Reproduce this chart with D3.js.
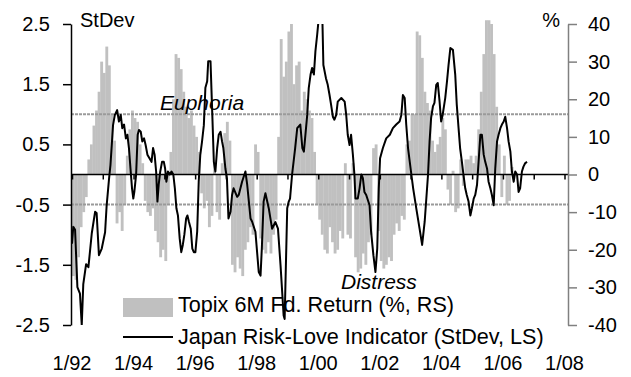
<html>
<head>
    <meta charset="utf-8">
    <script src="https://cdn.jsdelivr.net/npm/d3@7"></script>
    <style>
        body { margin: 0; background: #fff; }
        text { font-family: "Liberation Sans", Arial, sans-serif; fill: #000; }
        .tick text { font-size: 20px; }
        .note { font-size: 21px; font-style: italic; }
        .legend { font-size: 21.6px; }
    </style>
</head>
<body>
<script>

    // x tick labels (every other January)
    var xLabelYears = [1992, 1994, 1996, 1998, 2000, 2002, 2004, 2006, 2008];
    var xLabels = ["1/92", "1/94", "1/96", "1/98", "1/00", "1/02", "1/04", "1/06", "1/08"];

    var leftTicks = [2.5, 1.5, 0.5, -0.5, -1.5, -2.5];
    var rightTicks = [40, 30, 20, 10, 0, -10, -20, -30, -40];

    var euphoriaLevel = 1.0;
    var distressLevel = -0.5;

    // Topix 6M forward return (%), monthly from Jan 1992
    var topixReturn = [
        -27, -28, -22, -14, -10, -6, 4, 8, 13, 17, 22, 30,
        27, 34, 29, 16, 9, -13, -10, -15, -8, 5, 12, 17,
        15, 14, 8, 3, -7, -10, -11, -9, -15, -18, -22, -20,
        -23, -8, 6, 20, 32, 31, 28, 22, 18, 15, 17, 13,
        10, 6, -5, -9, -7, -14, -11, 3, -10, -12, 3, 11,
        14, 9, -24, -26, -22, -25, -27, -20, -18, -14, -16, 8,
        6, -17, -20, -21, -18, -21, -16, -12, 10, 36, 26, 30,
        38, 40, 24, 29, 30, 17, 22, 20, 17, 15, 6, -8,
        -12, -16, -20, -21, -14, -18, -21, -20, -15, -17, 3, -16,
        -17, 3, -22, -26, -25, -21, -24, -18, -16, 7, 8, -15,
        -23, -25, -24, -22, -23, -16, -13, -15, -11, -12, 8, 9,
        16, 16, 38, 37, 31, 22, 19, 17, 9, 6, 8, 10,
        15, 12, -4, -8, 1, -10, -9, 4, -3, 4, 4, 5,
        3, 5, 12, 22, 32, 41, 41, 40, 32, 18, 8, -6,
        5, -8, -7, 2
    ];

    // Japan Risk-Love Indicator (StDev): months after Jan 1992, value
    var riskMonth = [
        0, 0.5, 1.2, 2.1, 3.1, 3.8, 4.4, 5.5, 6.4, 7.7, 9.0, 9.6, 10.5, 11.6, 12.9, 13.5, 14.4, 15.0,
        16.0, 16.7, 17.6, 18.3, 19.0, 19.6, 20.3, 21.0, 21.6, 22.2, 22.8, 23.4, 23.9, 24.3, 25.0, 25.6,
        26.1, 26.8, 27.4, 28.1, 28.7, 29.4, 30.2, 31.0, 31.6, 32.2, 32.8, 33.3, 33.8, 34.4, 35.1, 35.8,
        36.3, 36.8, 37.4, 38.1, 38.8, 39.5, 40.1, 40.7, 41.3, 42.0, 42.6, 43.2, 43.8, 44.5, 45.0, 45.6,
        46.3, 46.9, 47.5, 48.1, 48.8, 49.4, 50.0, 50.7, 51.4, 52.0, 52.7, 53.1, 54.0, 54.7, 55.3, 55.9,
        56.6, 57.2, 57.9, 58.5, 59.0, 59.8, 60.4, 61.0, 61.8, 62.4, 63.0, 64.4, 65.0, 66.3, 67.6, 68.3,
        69.6, 70.2, 71.5, 72.8, 73.5, 74.0, 74.7, 75.4, 76.7, 78.0, 79.3, 80.3, 81.3, 82.5, 82.9, 83.9,
        84.5, 85.0, 85.8, 87.0, 87.8, 89.0, 89.8, 90.4, 91.7, 92.3, 93.0, 93.6, 94.3, 94.9, 95.6, 96.2,
        97.0, 97.6, 98.0, 99.0, 99.7, 100.4, 101.0, 101.7, 102.3, 103.0, 103.6, 105.0, 106.3, 106.9, 107.5, 108.2,
        108.8, 109.5, 110.1, 110.5, 111.4, 112.1, 112.8, 113.4, 114.0, 114.7, 116.0, 116.6, 117.5, 118.3, 119.0, 119.6,
        120.1, 121.2, 122.5, 123.9, 125.1, 126.4, 127.7, 128.4, 129.0, 129.7, 130.3, 131.0, 132.3, 133.0, 134.2, 135.5,
        136.5, 137.5, 138.8, 139.4, 140.0, 140.7, 141.3, 142.0, 142.6, 143.3, 143.9, 144.5, 145.5, 146.2, 146.8, 147.5,
        148.5, 149.4, 150.0, 150.7, 151.3, 152.0, 152.6, 153.3, 153.9, 154.6, 155.3, 155.9, 156.6, 157.2, 157.9, 158.5,
        159.2, 159.8, 160.5, 161.1, 161.8, 162.4, 163.1, 163.7, 164.4, 165.0, 165.7, 166.3, 167.0, 167.6, 168.3, 168.9,
        169.6, 170.2, 170.9, 171.5, 172.2, 172.8, 173.5, 174.1, 174.7, 175.4, 176.0, 176.7, 177.4
    ];
    var riskValue = [
        -1.15, -0.87, -0.92, -1.87, -1.98, -2.5, -1.82, -1.49, -1.54, -0.98, -0.62, -0.64, -1.34, -1.23, -0.96, -0.52, -0.09, 0.16,
        0.82, 0.99, 1.07, 0.88, 0.99, 0.77, 0.83, 0.60, 0.66, 0.44, 0.10, -0.23, -0.40, -0.29, 0, 0.66,
        0.74, 0.71, 0.55, 0.60, 0.49, 0.33, 0.27, 0.21, 0.44, 0.33, 0.05, -0.45, -0.17, 0.05, 0.21, 0.21,
        0.10, -0.12, 0.05, 0, 0.05, 0, -0.23, -0.56, -0.68, -1.07, -1.29, -1.17, -1.0, -0.73, -0.68, -0.79,
        -0.90, -1.23, -1.29, -1.29, -0.95, -0.12, 0.32, 0.55, 0.82, 1.44, 1.55, 1.88, 1.88, 0.99, 0.21, 0.05,
        0.44, 0.66, 0.71, 0.55, 0.44, 0.10, -0.06, -0.73, -0.62, -0.34, -0.23, -0.37, -0.34, -0.12, 0.05, -0.17,
        -0.73, -0.78, -0.95, -1.62, -1.68, -1.23, -0.45, -0.31, -0.56, -0.90, -0.79, -0.90, -1.51, -2.34, -2.40, -0.56,
        -0.45, -0.40, 0, 0.44, 0.77, 0.83, 0.44, 0.38, 0.99, 1.44, 1.66, 1.77, 1.66, 2.05, 2.33, 2.6,
        2.65, 2.6, 1.82, 1.60, 1.49, 1.32, 1.16, 0.96, 0.91, 0.99, 1.21, 1.27, 1.21, 0.99, 0.66, 0.49,
        0.66, 0.33, 0, -0.4, -0.4, -0.23, 0, -0.06, -0.29, -0.34, -0.51, -0.95, -1.34, -1.62, -1.23, -0.23,
        0.27, 0.44, 0.60, 0.66, 0.77, 0.83, 0.88, 0.99, 1.32, 1.27, 0.83, 0.44, 0, -0.23, -0.56, -0.90,
        -1.17, -0.78, 0, 0.55, 0.94, 1.13, 1.19, 1.49, 1.52, 1.21, 0.88, 0.99, 1.27, 1.55, 1.82, 2.1,
        2.07, 1.66, 1.16, 0.77, 0.44, 0.21, 0, -0.23, -0.34, -0.45, -0.68, -0.56, -0.40, -0.34, -0.17, 0.21,
        0.66, 0.66, 0.33, 0.21, 0.10, -0.12, -0.23, -0.34, -0.51, 0.10, 0.55, 0.66, 0.77, 0.83, 0.88, 0.96,
        0.77, 0.55, 0.38, 0.05, -0.12, 0.05, 0, -0.29, -0.23, 0.05, 0.13, 0.19, 0.21
    ];

    var width = 631,
        height = 377;
    var plotLeft = 71, plotRight = 568, plotTop = 24, plotBottom = 325;

    var x = d3.scaleLinear().domain([1992, 2008]).range([72, 564.5]);
    var yL = d3.scaleLinear().domain([-2.5, 2.5]).range([plotBottom, plotTop]);
    var yR = d3.scaleLinear().domain([-40, 40]).range([plotBottom, plotTop]);

    var monthW = x(1992 + 1 / 12) - x(1992);

    var svg = d3.select("body").append("svg")
        .attr("width", width)
        .attr("height", height);

    svg.append("clipPath").attr("id", "plot")
        .append("rect")
        .attr("x", plotLeft).attr("y", plotTop)
        .attr("width", plotRight - plotLeft).attr("height", plotBottom - plotTop);

    // gray bars
    svg.append("g")
        .selectAll("rect")
        .data(topixReturn)
        .enter().append("rect")
        .attr("x", function (d, i) { return x(1992 + i / 12); })
        .attr("width", monthW + 0.3)
        .attr("y", function (d) { return yR(Math.max(0, d)); })
        .attr("height", function (d) { return Math.abs(yR(d) - yR(0)); })
        .attr("fill", "#c0c0c0");

    // euphoria / distress thresholds
    svg.append("g")
        .selectAll("line")
        .data([euphoriaLevel, distressLevel])
        .enter().append("line")
        .attr("x1", plotLeft).attr("x2", plotRight)
        .attr("y1", function (d) { return yL(d); })
        .attr("y2", function (d) { return yL(d); })
        .attr("stroke", "#9a9a9a")
        .attr("stroke-width", 2)
        .attr("stroke-dasharray", "3,1");

    // zero line with yearly ticks
    svg.append("line")
        .attr("x1", plotLeft).attr("x2", plotRight)
        .attr("y1", yL(0)).attr("y2", yL(0))
        .attr("stroke", "#000").attr("stroke-width", 1.5);

    var yearAxis = svg.append("g")
        .attr("transform", "translate(0," + yL(0) + ")")
        .call(d3.axisBottom(x).tickValues(d3.range(1992, 2009)).tickSize(5).tickFormat(""));
    yearAxis.select(".domain").remove();
    yearAxis.selectAll("line").attr("stroke", "#000").attr("stroke-width", 1.5);

    // risk-love line
    var riskLine = d3.line()
        .x(function (d) { return x(1992 + d[0] / 12); })
        .y(function (d) { return yL(d[1]); });

    svg.append("path")
        .datum(d3.zip(riskMonth, riskValue))
        .attr("clip-path", "url(#plot)")
        .attr("d", riskLine)
        .attr("fill", "none")
        .attr("stroke", "#000")
        .attr("stroke-width", 2)
        .attr("stroke-linejoin", "round");

    // left axis
    var leftAxis = svg.append("g")
        .attr("transform", "translate(" + plotLeft + ",0)")
        .call(d3.axisLeft(yL).tickValues(leftTicks).tickSize(8).tickSizeOuter(0).tickPadding(13)
            .tickFormat(function (d) { return d.toFixed(1); }));
    leftAxis.select(".domain").attr("stroke", "#000").attr("stroke-width", 1.5);
    leftAxis.selectAll(".tick line").attr("stroke", "#000").attr("stroke-width", 1.5);
    leftAxis.selectAll("text").attr("fill", "#000");

    // right axis
    var rightAxis = svg.append("g")
        .attr("transform", "translate(" + plotRight + ",0)")
        .call(d3.axisRight(yR).tickValues(rightTicks).tickSize(9).tickSizeOuter(0).tickPadding(11)
            .tickFormat(function (d) { return String(d); }));
    rightAxis.select(".domain").attr("stroke", "#808080").attr("stroke-width", 1.5);
    rightAxis.selectAll(".tick line").attr("stroke", "#808080").attr("stroke-width", 1.5);
    rightAxis.selectAll("text").attr("fill", "#000");

    // date labels
    svg.append("g")
        .selectAll("text")
        .data(xLabelYears)
        .enter().append("text")
        .attr("x", function (d) { return x(d); })
        .attr("y", 370)
        .attr("text-anchor", "middle")
        .style("font-size", "20px")
        .text(function (d, i) { return xLabels[i]; });

    // unit labels
    svg.append("text").attr("x", 80).attr("y", 27).style("font-size", "20px").text("StDev");
    svg.append("text").attr("x", 560).attr("y", 27).attr("text-anchor", "end").style("font-size", "20px").text("%");

    // annotations
    svg.append("text").attr("class", "note").attr("x", 160).attr("y", 110).text("Euphoria");
    svg.append("text").attr("class", "note").attr("x", 341).attr("y", 289).text("Distress");

    // legend
    svg.append("rect").attr("x", 123).attr("y", 298).attr("width", 50).attr("height", 19).attr("fill", "#c0c0c0");
    svg.append("text").attr("class", "legend").attr("x", 178).attr("y", 312).text("Topix 6M Fd. Return (%, RS)");
    svg.append("line").attr("x1", 123).attr("x2", 173).attr("y1", 337).attr("y2", 337)
        .attr("stroke", "#000").attr("stroke-width", 2);
    svg.append("text").attr("class", "legend").attr("x", 178).attr("y", 344).text("Japan Risk-Love Indicator (StDev, LS)");

</script>
</body>
</html>
